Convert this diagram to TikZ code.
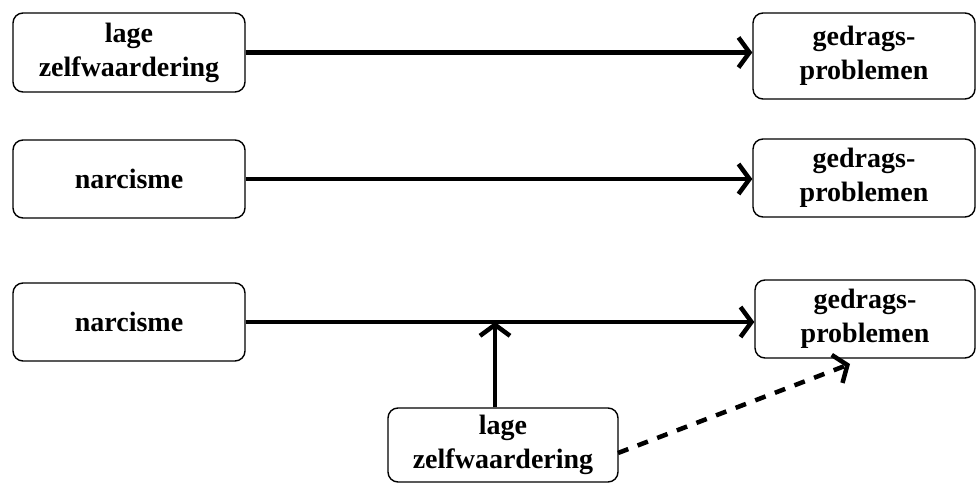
\documentclass[tikz,border=0pt]{standalone}
\usepackage{fontspec}
\setmainfont{Liberation Serif}
\usetikzlibrary{arrows.meta}
\begin{document}
\begin{tikzpicture}[x=1pt,y=-1pt,
  box/.style={draw=black, line width=1.4pt, rounded corners=10pt, align=center,
    font=\fontsize{28}{34}\selectfont\bfseries, inner sep=0pt},
  conn/.style={line width=4.5pt, -{Straight Barb[length=11pt,width=30pt,line width=4.5pt]}},
  dconn/.style={conn, dash pattern=on 11pt off 10pt}]
\useasboundingbox (0,0) rectangle (976,484);
\node[box, minimum width=232pt, minimum height=79pt] (L1) at (129,52.5) {lage\\zelfwaardering};
\node[box, minimum width=222pt, minimum height=86pt] (R1) at (864,56) {gedrags-\\problemen};
\node[box, minimum width=232pt, minimum height=78pt] (L2) at (129,179) {narcisme};
\node[box, minimum width=222pt, minimum height=78pt] (R2) at (864,178) {gedrags-\\problemen};
\node[box, minimum width=232pt, minimum height=78pt] (L3) at (129,322) {narcisme};
\node[box, minimum width=220pt, minimum height=78pt] (R3) at (865,319) {gedrags-\\problemen};
\node[box, minimum width=230pt, minimum height=74pt] (B) at (503,445) {lage\\zelfwaardering};
\coordinate (m) at (495,322);
\coordinate (d) at (850,364);
\coordinate (s) at (618,453);
\draw[conn] (L1.east) -- (L1.east -| R1.west);
\draw[conn] (L2.east) -- (L2.east -| R2.west);
\draw[conn] (L3.east) -- (L3.east -| R3.west);
\draw[conn] (B.north -| m) -- (m);
\draw[dconn] (s) -- (d);
\end{tikzpicture}
\end{document}
